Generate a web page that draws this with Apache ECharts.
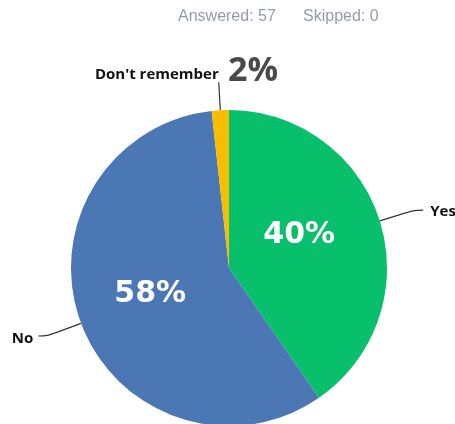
<!DOCTYPE html>
<html>
<head>
<meta charset="utf-8">
<script src="https://cdn.jsdelivr.net/npm/echarts@6/dist/echarts.min.js"></script>
<style>
  html, body { margin: 0; padding: 0; background: #fff; }
  #chart { width: 455px; height: 424px; }
</style>
</head>
<body>
<div id="chart"></div>
<script>
// Survey answers (counts out of 57 respondents)
const categories = ['Yes', 'No', "Don't remember"];
const counts = [23, 33, 1];
const colors = ['#08bf6b', '#4b78b5', '#f7bd00'];
const answered = 57;
const skipped = 0;

const total = counts.reduce((a, b) => a + b, 0);
const pct = v => Math.round(v / total * 100) + '%';

const chart = echarts.init(document.getElementById('chart'));

const nameData = categories.map((c, i) => {
  const d = { name: c, value: counts[i], itemStyle: { color: colors[i] } };
  if (i === 2) {
    // the thin slice's label sits straight above it
    d.labelLine = { length: 28, length2: 0, smooth: false };
    d.label = { distanceToLabelLine: 0 };
  }
  return d;
});

const pctData = categories.map((c, i) => {
  const d = { name: c, value: counts[i] };
  if (i === 2) {
    d.label = {
      position: 'outside',
      color: '#4a4a4a',
      fontFamily: 'Open Sans',
      fontSize: 34
    };
    d.labelLine = { show: false };
  }
  return d;
});

// nudges for the name labels and the percentage labels
const nameShift = [{ dy: 2 }, { dx: 2, dy: 3 }, { dy: -8 }];
const pctShift = [
  { dx: -8, dy: -8 },
  { dx: -2, dy: -3 },
  { x: 228, y: 71, align: 'left', verticalAlign: 'middle' }
];

chart.setOption({
  animation: false,
  graphic: [
    {
      type: 'text', left: 178, top: 9,
      style: { text: 'Answered: ' + answered, fill: '#959ca5', font: '16px "Liberation Sans", Arial, sans-serif' }
    },
    {
      type: 'text', left: 303, top: 9,
      style: { text: 'Skipped: ' + skipped, fill: '#959ca5', font: '16px "Liberation Sans", Arial, sans-serif' }
    }
  ],
  series: [
    {
      type: 'pie',
      center: [229, 268],
      radius: 158,
      startAngle: 90,
      clockwise: true,
      silent: true,
      data: nameData,
      label: {
        show: true,
        position: 'outside',
        formatter: '{b}',
        color: '#111',
        fontFamily: 'Open Sans',
        fontWeight: 'bold',
        fontSize: 15,
        overflow: 'none',
        distanceToLabelLine: 7
      },
      labelLine: {
        show: true,
        length: 36,
        length2: 9,
        smooth: 0.4,
        lineStyle: { color: '#333', width: 1.2 }
      },
      labelLayout: p => nameShift[p.dataIndex]
    },
    {
      type: 'pie',
      center: [229, 268],
      radius: 158,
      startAngle: 90,
      clockwise: true,
      silent: true,
      data: pctData,
      itemStyle: { color: 'rgba(0,0,0,0)' },
      label: {
        show: true,
        position: 'inside',
        formatter: p => pct(p.value),
        color: '#fff',
        fontFamily: 'DejaVu Sans',
        fontWeight: 'bold',
        fontSize: 30,
        overflow: 'none'
      },
      labelLayout: p => pctShift[p.dataIndex]
    }
  ]
});
</script>
</body>
</html>
